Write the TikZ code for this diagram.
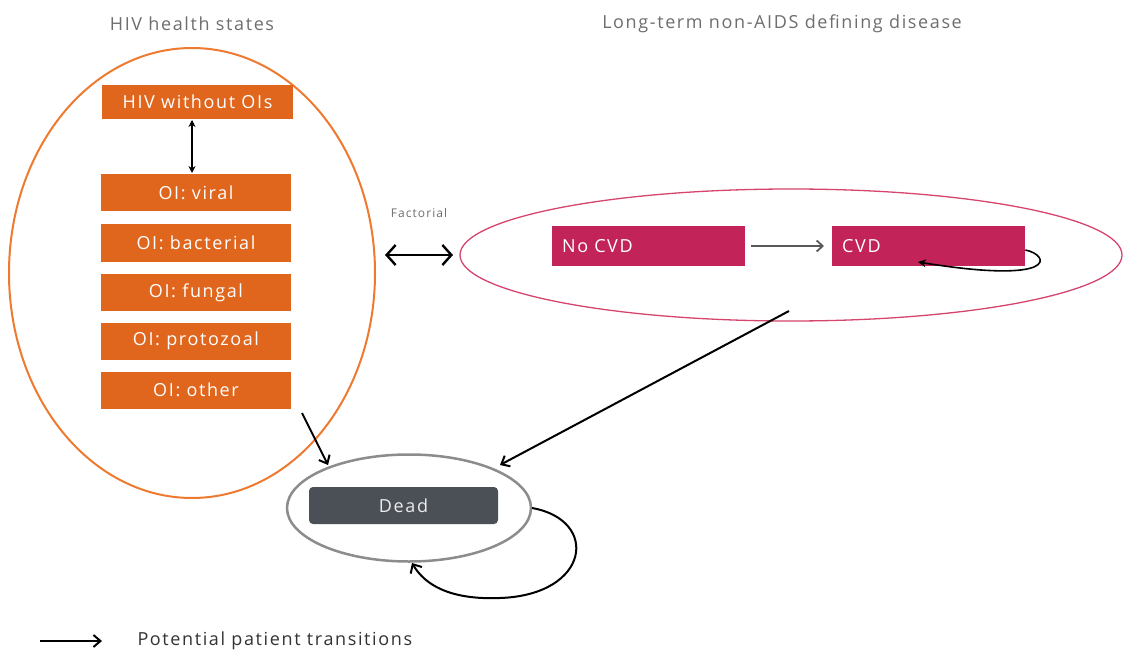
\documentclass[tikz,border=0pt]{standalone}
\usepackage{fontspec}
\setmainfont{Open Sans}
\newfontfamily\spaced[LetterSpace=9]{Open Sans}
\usetikzlibrary{arrows.meta,shapes.geometric}
\definecolor{hivorange}{HTML}{E0661E}
\definecolor{ringorange}{HTML}{EE7A30}
\definecolor{cvdred}{HTML}{C2245A}
\definecolor{ringpink}{HTML}{D6456E}
\definecolor{deadgray}{HTML}{4B5056}
\definecolor{titlegray}{HTML}{6E6E6E}
\tikzset{
  x=1pt,y=-1pt,
  lbl/.style={font=\spaced\fontsize{18}{20}\selectfont},
  hivbox/.style={lbl,fill=hivorange,text=white,minimum width=190pt,minimum height=37pt,inner sep=0pt},
  cvdbox/.style={lbl,fill=cvdred,text=white,minimum width=193pt,minimum height=40pt,inner sep=0pt},
  title/.style={lbl,text=titlegray},
  trans/.style={black,line width=2pt,-{Straight Barb[length=7pt,width=12pt]}},
}
\begin{document}
\begin{tikzpicture}
\useasboundingbox (0,0) rectangle (1134,652);
\fill[white] (0,0) rectangle (1134,652);
% titles
\node[title] (t1) at (192,24) {HIV health states};
\node[title] (t2) at (782,24) {Long-term non-AIDS defining disease};
% orange ring
\node[ellipse,draw=ringorange,line width=2pt,minimum width=366pt,minimum height=450pt] (ring) at (192,273) {};
\node[hivbox,minimum width=191pt,minimum height=34pt] (hiv) at (197.5,102) {HIV without OIs};
\node[hivbox] (viral) at (196,193) {OI: viral};
\node[hivbox] (bact) at (196,243) {OI: bacterial};
\node[hivbox] (fung) at (196,292.5) {OI: fungal};
\node[hivbox] (prot) at (196,341) {OI: protozoal};
\node[hivbox] (oth) at (196,390) {OI: other};
\draw[black,line width=2pt,{Stealth[length=7pt,width=7pt]}-{Stealth[length=7pt,width=7pt]}] (192,120) -- (192,173);
% factorial
\node[text=titlegray,font=\spaced\fontsize{12}{14}\selectfont] (fact) at (419,213) {Factorial};
\coordinate (fa) at (385,255);
\coordinate (fb) at (453,255);
\draw[black,line width=2.4pt,{Straight Barb[length=9pt,width=20pt]}-{Straight Barb[length=9pt,width=20pt]}] (fa) -- (fb);
% pink ring
\node[ellipse,draw=ringpink,line width=1.3pt,minimum width=662pt,minimum height=132pt] (pring) at (791,255) {};
\node[cvdbox,anchor=west,text width=173pt,align=left] (nocvd) at (552,246) {No CVD};
\node[cvdbox,anchor=west,text width=173pt,align=left] (cvd) at (832,246) {CVD};
\draw[gray!70!black,line width=1.8pt,-{Straight Barb[length=6pt,width=11pt]}] (nocvd.east) ++(6,0) coordinate (na) (na) -- ([xshift=-8pt]cvd.west);
\draw[black,line width=1.6pt,-{Stealth[length=8pt,width=8pt]}] (cvd.east) ++(0,4) .. controls (1050,255) and (1060,285) .. (918,262);
% dead
\node[ellipse,draw=gray!90,line width=2.5pt,minimum width=244pt,minimum height=107pt] (dring) at (409,508) {};
\node[lbl,fill=deadgray,text=white!85!gray,rounded corners=4pt,minimum width=189pt,minimum height=37pt,inner sep=0pt] (dead) at (403.5,505.5) {Dead};
\draw[trans] (302,413) -- (328,465);
\draw[trans] (789,311) -- (500,465);
\draw[black,line width=2pt,-{Straight Barb[length=7pt,width=13pt]}] (532,508) .. controls (600,520) and (590,595) .. (500,598) .. controls (450,600) and (425,585) .. (412,563);
% legend
\coordinate (la) at (40,641);
\coordinate (lb) at (102,641);
\draw[trans] (la) -- (lb);
\node[lbl,anchor=west,text=black!80] (leg) at (134,641) {Potential patient transitions};
\end{tikzpicture}
\end{document}
